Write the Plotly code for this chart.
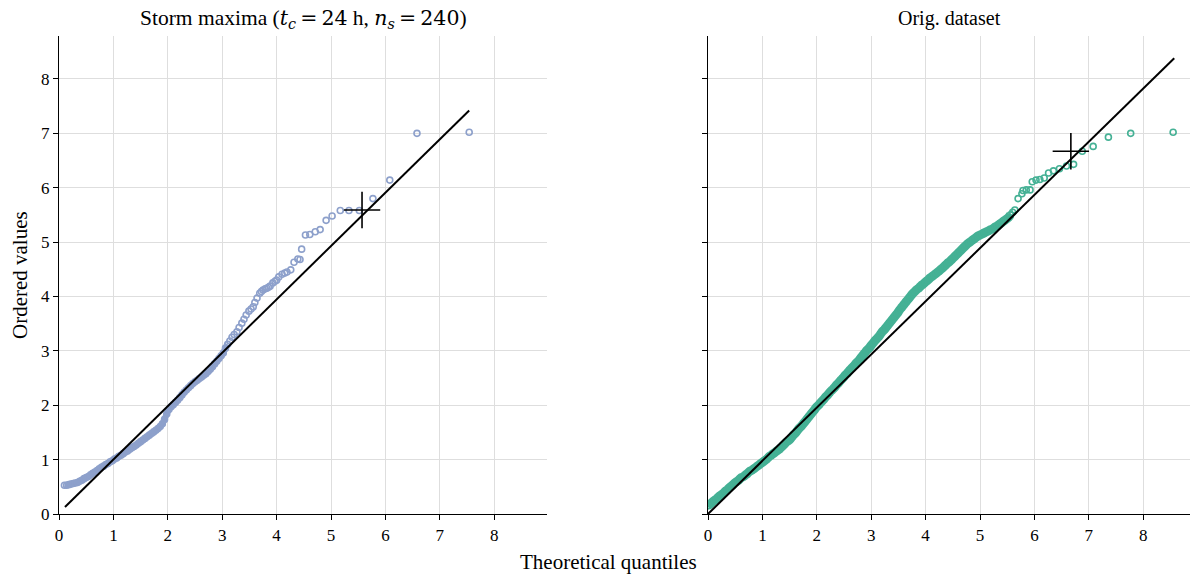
import plotly.graph_objects as go

# ---- Left panel: storm maxima (theoretical quantile, ordered value) ----
storm_theo = [0.10,0.14,0.18,0.22,0.26,0.30,0.34,0.38,0.42,0.46,0.50,0.54,0.58,0.62,0.66,0.70,0.74,0.78,0.82,0.86,
              0.90,0.94,0.98,1.02,1.06,1.10,1.14,1.18,1.22,1.26,1.30,1.34,1.38,1.42,1.46,1.50,1.54,1.58,1.62,1.66,
              1.70,1.74,1.78,1.82,1.86,1.90,1.94,1.98,2.02,2.06,2.10,2.14,2.18,2.22,2.26,2.30,2.34,2.38,2.42,2.46,
              2.50,2.54,2.58,2.62,2.66,2.70,2.74,2.78,2.82,2.86,2.90,2.94,2.98,3.02,3.06,3.10,3.14,3.18,3.22,3.27,
              3.31,3.36,3.40,3.44,3.49,3.53,3.57,3.60,3.64,3.69,3.72,3.75,3.79,3.82,3.85,3.88,3.93,3.97,4.00,4.04,
              4.10,4.15,4.19,4.26,4.32,4.39,4.43,4.46,4.53,4.61,4.71,4.80,4.91,5.02,5.17,5.33,5.52,5.77,6.08,6.58,7.54]
storm_vals = [0.53,0.53,0.54,0.55,0.56,0.57,0.58,0.60,0.62,0.65,0.67,0.69,0.72,0.75,0.77,0.80,0.83,0.86,0.88,0.91,
              0.93,0.96,0.98,1.01,1.03,1.06,1.08,1.11,1.14,1.16,1.19,1.22,1.24,1.27,1.30,1.33,1.36,1.39,1.42,1.45,
              1.48,1.51,1.54,1.57,1.61,1.66,1.74,1.84,1.92,1.97,2.01,2.05,2.09,2.14,2.19,2.24,2.28,2.32,2.36,2.40,
              2.43,2.46,2.49,2.52,2.55,2.58,2.62,2.66,2.71,2.76,2.81,2.86,2.91,2.96,3.05,3.12,3.18,3.25,3.30,3.35,
              3.43,3.51,3.58,3.66,3.73,3.77,3.81,3.89,3.97,4.06,4.09,4.12,4.14,4.15,4.17,4.19,4.25,4.28,4.30,4.36,
              4.41,4.43,4.45,4.49,4.63,4.69,4.68,4.87,5.13,5.14,5.19,5.23,5.40,5.48,5.58,5.58,5.58,5.80,6.14,7.00,7.02]
storm_dense_count = 76          # points so tightly packed they merge into a solid band
storm_fit_x = [0.11, 7.54]
storm_fit_y = [0.13, 7.42]
storm_mark_x = [5.57]
storm_mark_y = [5.59]

# ---- Right panel: original dataset ----
orig_theo = [0.00,0.04,0.08,0.12,0.16,0.20,0.24,0.28,0.32,0.36,0.40,0.44,0.48,0.52,0.56,0.60,0.64,0.68,0.72,0.76,
             0.80,0.84,0.88,0.92,0.96,1.00,1.04,1.08,1.12,1.16,1.20,1.24,1.28,1.32,1.36,1.40,1.44,1.48,1.52,1.56,
             1.60,1.64,1.68,1.72,1.76,1.80,1.84,1.88,1.92,1.96,2.00,2.04,2.08,2.12,2.16,2.20,2.24,2.28,2.32,2.36,
             2.40,2.44,2.48,2.52,2.56,2.60,2.64,2.68,2.72,2.76,2.80,2.84,2.88,2.92,2.96,3.00,3.04,3.08,3.12,3.16,
             3.20,3.24,3.28,3.32,3.36,3.40,3.44,3.48,3.52,3.56,3.60,3.64,3.68,3.72,3.76,3.80,3.84,3.88,3.92,3.96,
             4.00,4.04,4.08,4.12,4.16,4.20,4.24,4.28,4.32,4.36,4.40,4.44,4.48,4.52,4.56,4.60,4.64,4.68,4.72,4.76,
             4.80,4.84,4.88,4.92,4.96,5.00,5.04,5.08,5.12,5.16,5.20,5.24,5.28,5.32,5.36,5.40,5.44,5.48,5.52,5.56,
             5.60,5.64,5.70,5.77,5.79,5.85,5.92,5.96,6.03,6.10,6.18,6.26,6.35,6.46,6.59,6.72,6.88,7.08,7.36,7.77,8.55]
orig_vals = [0.15,0.18,0.22,0.25,0.28,0.32,0.35,0.38,0.42,0.45,0.49,0.52,0.56,0.59,0.62,0.66,0.68,0.71,0.74,0.78,
             0.80,0.83,0.86,0.89,0.92,0.95,0.98,1.01,1.05,1.08,1.11,1.14,1.17,1.20,1.24,1.28,1.32,1.35,1.39,1.44,
             1.48,1.53,1.58,1.62,1.67,1.72,1.77,1.82,1.87,1.92,1.97,2.01,2.06,2.10,2.15,2.19,2.24,2.28,2.32,2.37,
             2.41,2.46,2.50,2.55,2.59,2.64,2.68,2.72,2.77,2.81,2.86,2.91,2.96,3.01,3.05,3.10,3.15,3.20,3.24,3.29,
             3.35,3.39,3.44,3.49,3.54,3.59,3.64,3.69,3.75,3.80,3.85,3.90,3.95,4.00,4.05,4.09,4.13,4.16,4.20,4.23,
             4.27,4.30,4.34,4.37,4.40,4.43,4.46,4.50,4.53,4.57,4.61,4.64,4.68,4.72,4.76,4.80,4.84,4.88,4.92,4.96,
             4.99,5.02,5.05,5.08,5.11,5.13,5.15,5.17,5.19,5.21,5.23,5.25,5.28,5.30,5.33,5.36,5.39,5.42,5.45,5.50,
             5.55,5.59,5.80,5.89,5.95,5.96,5.96,6.11,6.14,6.15,6.18,6.27,6.31,6.35,6.40,6.43,6.67,6.76,6.93,7.00,7.02]
orig_dense_count = 140
orig_fit_x = [0.0, 8.57]
orig_fit_y = [0.0, 8.38]
orig_mark_x = [6.67]
orig_mark_y = [6.67]

tick_vals = [0, 1, 2, 3, 4, 5, 6, 7, 8]
tick_text = ["0", "1", "2", "3", "4", "5", "6", "7", "8"]

BLUE = "#8da0cb"
GREEN = "#45b195"
FONT = "Liberation Serif"
MATH = "DejaVu Serif"

fig = go.Figure()

def add_panel(xa, ya, tx, ty, ndense, band_w, fx, fy, mx, my, color):
    # the densest part of the sample is drawn as overlapping markers forming a solid band
    fig.add_trace(go.Scatter(x=tx[:ndense], y=ty[:ndense], mode="lines", xaxis=xa, yaxis=ya,
                             line=dict(color=color, width=band_w, shape="spline", smoothing=0.8),
                             showlegend=False, hoverinfo="skip"))
    fig.add_trace(go.Scatter(x=tx, y=ty, mode="markers", xaxis=xa, yaxis=ya,
                             marker=dict(symbol="circle-open", size=6, color=color,
                                         line=dict(width=1.6, color=color)),
                             showlegend=False, hoverinfo="skip"))
    fig.add_trace(go.Scatter(x=fx, y=fy, mode="lines", xaxis=xa, yaxis=ya,
                             line=dict(color="black", width=2), showlegend=False, hoverinfo="skip"))
    fig.add_trace(go.Scatter(x=mx, y=my, mode="markers", xaxis=xa, yaxis=ya,
                             marker=dict(symbol="cross-thin", size=26, color="black",
                                         line=dict(width=1.6, color="black")),
                             showlegend=False, hoverinfo="skip"))

add_panel("x", "y", storm_theo, storm_vals, storm_dense_count, 6, storm_fit_x, storm_fit_y,
          storm_mark_x, storm_mark_y, BLUE)
add_panel("x2", "y2", orig_theo, orig_vals, orig_dense_count, 9, orig_fit_x, orig_fit_y,
          orig_mark_x, orig_mark_y, GREEN)

W, H = 1192, 575
axis_common = dict(showline=True, linecolor="black", linewidth=1.3, mirror=False, automargin=False,
                   ticks="outside", ticklen=5, tickwidth=1.3, tickcolor="black",
                   showgrid=True, gridcolor="#dedede", gridwidth=1, zeroline=False,
                   tickvals=tick_vals, ticktext=tick_text,
                   tickfont=dict(family=FONT, size=17, color="black"))

ydom = [61 / H, 539 / H]

def m(s):
    return f'<span style="font-family:{MATH};font-size:20.5px">{s}</span>'

left_title = ("Storm maxima (" + m("<i>t</i><sub><i>c</i></sub>\u2009=\u200924") + " h, "
              + m("<i>n</i><sub><i>s</i></sub>\u2009=\u2009240") + ")")

fig.update_layout(
    width=W, height=H, margin=dict(l=0, r=0, t=0, b=0),
    plot_bgcolor="white", paper_bgcolor="white",
    xaxis=dict(domain=[59 / W, 547 / W], range=[0, 8.97], anchor="y", **axis_common),
    yaxis=dict(domain=ydom, range=[0, 8.79], anchor="x", **axis_common),
    xaxis2=dict(domain=[708 / W, 1190 / W], range=[0, 8.86], anchor="y2", **axis_common),
    yaxis2=dict(domain=ydom, range=[0, 8.79], anchor="x2", showticklabels=False, **axis_common),
    annotations=[
        dict(text=left_title,
             x=303 / W, y=1 - 19 / H, xref="paper", yref="paper", xanchor="center", yanchor="middle",
             showarrow=False, font=dict(family=FONT, size=21.5, color="black")),
        dict(text="Orig. dataset", x=949 / W, y=1 - 19 / H, xref="paper", yref="paper",
             xanchor="center", yanchor="middle", showarrow=False,
             font=dict(family=FONT, size=20, color="black")),
        dict(text="Ordered values", x=20 / W, y=1 - 275 / H, xref="paper", yref="paper",
             xanchor="center", yanchor="middle", textangle=-90, showarrow=False,
             font=dict(family=FONT, size=21, color="black")),
        dict(text="Theoretical quantiles", x=608 / W, y=1 - 562 / H, xref="paper", yref="paper",
             xanchor="center", yanchor="middle", showarrow=False,
             font=dict(family=FONT, size=21, color="black")),
    ],
)

fig.write_html("out.html")
